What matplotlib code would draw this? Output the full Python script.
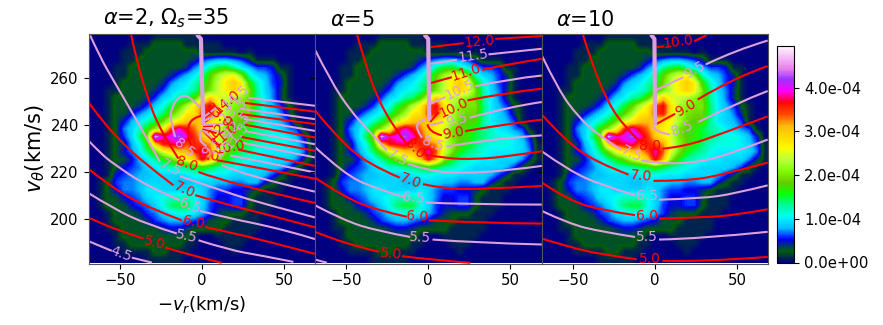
import matplotlib
matplotlib.use('Agg')

import matplotlib.pyplot as plt
from matplotlib.patches import PathPatch
from matplotlib.path import Path
import numpy as np

gap = float('nan')

# density map, units of 1e-5, top row first
density = [
    [0,0,0,0,0,0,0,0,1,1,1,1,1,1,0,0,0,0,0,0,0,0,0,0,0,0,0,0,0],
    [0,0,0,0,0,1,1,1,3,3,3,3,1,1,1,1,1,0,0,0,0,0,0,0,0,0,0,0,0],
    [0,0,0,0,1,1,1,3,3,3,3,3,3,3,1,1,1,1,1,0,1,0,0,0,0,0,0,0,0],
    [0,0,0,0,1,1,3,3,3,3,3,3,3,4,6,7,8,8,7,6,4,1,1,1,0,0,0,0,0],
    [0,0,0,1,1,3,3,3,3,3,3,3,4,7,9,13,15,16,13,10,8,6,6,5,1,1,0,0,0],
    [0,0,0,1,1,3,3,3,3,3,4,6,8,10,13,18,22,25,26,20,12,9,8,6,4,1,0,0,0],
    [0,0,0,1,3,3,3,3,3,4,7,9,10,12,15,19,24,27,30,27,17,12,9,6,5,1,0,0,0],
    [0,0,1,1,3,3,3,3,4,6,9,10,11,13,17,20,24,27,29,27,20,13,9,7,4,1,0,0,0],
    [0,0,1,3,3,3,3,4,6,9,10,13,14,18,24,30,25,24,23,21,19,13,10,7,4,1,0,0,0],
    [0,0,1,3,3,3,4,6,9,11,15,18,23,27,34,37,28,23,21,20,20,14,10,8,6,3,1,0,0],
    [0,0,1,3,3,5,7,9,11,14,18,22,27,28,35,36,28,23,20,19,19,14,10,9,7,4,1,0,0],
    [0,0,1,3,5,8,10,12,15,19,24,27,30,31,30,28,26,23,19,18,18,13,10,9,8,6,1,0,0],
    [0,0,1,3,7,9,12,17,21,26,35,39,36,33,29,27,25,20,18,17,15,13,12,10,9,7,6,1,0],
    [0,0,1,3,6,9,14,20,46,38,40,43,39,35,30,27,25,20,18,17,15,14,12,11,11,10,8,5,0],
    [0,0,1,3,4,8,11,17,30,36,37,38,34,36,34,32,25,21,18,16,14,12,11,11,11,10,9,6,1],
    [0,0,1,3,5,7,10,14,19,25,28,30,31,34,39,34,25,20,16,14,13,11,10,10,10,10,9,7,1],
    [0,0,1,3,3,5,8,10,13,16,19,23,26,30,37,31,21,16,13,12,11,10,10,9,9,9,7,4,1],
    [0,0,1,3,5,6,7,9,10,12,12,13,14,15,17,15,13,12,11,10,9,9,9,9,8,6,3,1,0],
    [0,0,1,5,6,7,8,8,9,9,9,9,10,11,11,10,10,10,9,9,9,9,8,6,4,1,1,0,0],
    [0,1,3,6,7,7,8,9,9,9,9,8,8,9,9,9,8,8,7,7,8,8,5,3,1,1,0,0,0],
    [0,1,3,5,7,7,8,10,10,9,9,9,9,10,9,7,6,6,5,5,4,3,1,1,1,0,0,0,0],
    [0,1,3,3,5,6,7,9,10,11,12,12,12,11,9,7,5,5,6,6,3,1,1,1,0,0,0,0,0],
    [0,1,3,3,3,5,6,7,9,11,14,15,15,11,9,6,5,5,6,6,3,1,1,1,0,0,0,0,0],
    [0,0,1,3,3,3,4,6,7,9,10,11,11,10,8,6,4,3,3,3,1,1,1,0,0,0,0,0,0],
    [0,0,1,3,3,3,3,4,6,7,8,8,7,6,5,3,3,3,1,1,1,1,0,0,0,0,0,0,0],
    [0,0,1,1,3,3,3,3,3,4,5,5,4,3,3,3,3,1,1,1,1,1,0,0,0,0,0,0,0],
    [0,0,0,1,3,3,3,3,3,3,3,3,3,1,0,0,1,1,1,1,1,0,0,0,0,0,0,0,0],
    [0,0,0,1,1,3,3,3,3,3,3,3,1,1,0,0,0,1,1,1,0,0,0,0,0,0,0,0,0],
    [0,0,0,0,1,1,1,1,3,3,1,1,1,0,0,0,0,0,1,0,0,0,0,0,0,0,0,0,0],
    [0,0,0,0,0,0,0,1,1,1,1,1,0,0,0,0,0,0,0,0,0,0,0,0,0,0,0,0,0],
]

titles = [r'$\alpha$=2, $\Omega_s$=35', r'$\alpha$=5', r'$\alpha$=10']

# (level, vr, vtheta) - gap where the contour label sits
lines_a2 = [
    (4.5, [-69.2,-61.9,-54.8,gap,-42.6,-30.4], [190.6,188.4,186.4,gap,183.5,181.4]),
    (5.0, [-69.2,-61.9,-53.8,-35.5,gap,-22.3,-3,12.2], [200.6,198.4,195.9,191.6,gap,187.8,183.8,181.3]),
    (5.5, [-69.2,-53.8,-33.5,-15.2,gap,-2,17.2,35.5,55.8], [211.1,204.4,197.7,193.8,gap,190.9,186.7,184.5,181.7]),
    (6.0, [-69.2,-53.8,-33.5,-12.2,gap,2,17.2,37.5,69], [221.4,212.9,205.1,199.4,gap,196.6,194.2,190.9,185.1]),
    (6.5, [-69.2,-61.9,-53.8,-33.5,-13.2,gap,-1,17.2,37.5,59.8,69], [233.5,228.1,223.5,214,207.9,gap,203.4,200.2,197.4,193.4,191.4]),
    (7.0, [-69.2,-61.9,-53.8,-37.5,-17.2,gap,-4,17.2,37.5,69], [249.8,243.1,236.3,225,214.3,gap,210.1,205.8,202.3,196.4]),
    (7.5, [-68,-61.9,-53.8,-39.6,-25.4,gap,-13.2,17.2,37.5,69], [278.2,268.9,259,242,224.3,gap,218.2,210.8,206.5,200.6]),
    (8.0, [-43.2,-39.6,-33.5,-25.4,-14.2,gap,-2,17.2,69], [278.9,267.5,252.6,237.7,225.7,gap,220,215,206.8]),
    (8.5, [-1,-7.1,-13.2,-18.3,-19.3,-16.2,gap,12,25.4,69], [247.4,252.2,252.6,247.7,242,234.9,gap,223,218.6,211.6]),
    (9.0, [0,-6,-9,-7,-3,gap,9.1,17.2,69], [244,243,238,231,228,gap,225,224.2,217.1]),
    (9.5, [0,-1.5,0,3,gap,17.2,69], [238,235,232,231,gap,227.1,219.8]),
    (10.0, [0.5,5,11,gap,22.3,69], [238,234,231,gap,229.5,222.6]),
    (10.5, [0.5,8,gap,24.3,69], [238,233.5,gap,232.5,226.2]),
    (11.0, [0.5,9,gap,24.3,69], [238.5,236.5,gap,234.9,229]),
    (11.5, [0.5,14,gap,26.4,69], [239,236.5,gap,237.4,231.8]),
    (12.0, [0.5,7,gap,26.4,69], [239.5,239.5,gap,240.1,234.7]),
    (12.5, [0.5,14,gap,25.4,69], [240,240.5,gap,242.7,237.5]),
    (13.0, [0.5,5,gap,22.3,69], [240.5,243,gap,244.8,240.4]),
    (13.5, [0.5,12,gap,23.3,69], [241.5,245,gap,247,242.5]),
    (14.0, [0.5,8,gap,26.4,69], [242,247,gap,249.4,245.7]),
    (14.5, [0.5,10,gap,28.4,69], [243,248,gap,251.6,248.2]),
]
labels_a2 = [
    (4.5,-49.3,185.2,-20),(5.0,-29,189.8,-15),(5.5,-9.1,192.6,-12),(6.0,-5.1,198.7,-12),
    (6.5,-7.1,205.4,-20),(7.0,-10.8,212.2,-25),(7.5,-19.3,221.5,-30),(8.0,-9,223.4,-20),
    (8.5,-10.8,230.1,-40),(9.0,4.1,226.8,-5),(9.5,6.1,230.1,40),(10.0,17.2,230.4,10),
    (10.5,13.2,232.1,60),(11.0,14.2,235.6,40),(11.5,21.3,235.6,50),(12.0,12.2,239.1,40),
    (12.5,21.3,240.6,40),(13.0,9.7,244.1,-40),(13.5,19.7,246.5,40),(14.0,15.2,249.6,40),
    (14.5,20.9,251.9,40),
]
thick_a2 = ([-3,-0.5,0,1], [278.6,276.7,262,240])

lines_a5 = [
    (4.5, [-69,-61.7], [182.7,181.3]),
    (5.0, [-69,-51.5,-30.2,gap,-16,9.3,25.6], [194.5,189.5,186,gap,184.1,182.1,181.3]),
    (5.5, [-69,-51.5,-31.2,-11,gap,2.6,29.6,69.2], [205.8,199.4,194.9,192.3,gap,191.2,189.8,189.1]),
    (6.0, [-69,-51.5,-31.2,-13,gap,0.2,29.6,69.2], [217.6,209.4,203.7,200.9,gap,199.4,198.3,198]),
    (6.5, [-69,-51.5,-33.3,-15,gap,-1.4,19.5,69.2], [230.6,219.3,213.2,209.4,gap,207,206.2,206.1]),
    (7.0, [-69,-55.6,-37.3,-17.4,gap,-3.2,9.3,29.6,69.2], [246.2,234.9,223.5,217.6,gap,214.8,212.9,212.6,214]),
    (7.5, [-68.8,-59.6,-47.5,-37.3,-25.2,gap,-12.6,-0.8,19.5,49.9,69.2], [271.8,259,246.2,238.4,229.2,gap,223.5,220.7,219.3,220.7,222.6]),
    (8.0, [-43.4,-38.3,-31.2,-21.1,-13,gap,-1.8,9.3,29.6,49.9,69.2], [278.6,266.1,251.9,239.1,231.8,gap,227.5,225.8,225.4,226.8,228.8]),
    (8.5, [-1.8,-5.9,-7.5,-3.9,gap,11,29.6,49.9,69.2], [242.4,241.3,238.4,234.6,gap,230.9,232.8,234.6,235.6]),
    (9.0, [-0.4,0.2,8.3,gap,22.5,45.8,69.2], [240.3,237,235.6,gap,237.4,240.3,242.3]),
    (9.5, [1.2,9.3,gap,25.2,49.9,69.2], [239.9,241.3,gap,243.1,247.9,249.8]),
    (10.0, [1.2,6.3,gap,23.9,45.8,69.2], [241.3,245.5,gap,250.5,253.6,255.5]),
    (10.5, [1.6,10.3,gap,28.6,49.9,69.2], [249.1,251.9,gap,256.5,259.7,261.1]),
    (11.0, [1.6,14.4,gap,32.7,49.9,69.2], [257.9,260.4,gap,263.5,266.1,268.2]),
    (11.5, [1.6,17.4,gap,36.7,69.2], [266.1,267.8,gap,270.1,272.5]),
    (12.0, [1.6,21.5,gap,40.8,69.2], [273.2,274.9,gap,276.7,277.9]),
]
labels_a5 = [
    (5.0,-22.7,185,-5),(5.5,-4.9,192.1,-3),(6.0,-6.9,201,-3),(6.5,-8.9,208.8,-5),
    (7.0,-10.6,216.2,-20),(7.5,-18.7,226.1,-30),(8.0,-8.5,229.6,-45),(8.5,2.8,232.1,-20),
    (9.0,15,236.6,10),(9.5,17.4,242.2,15),(10.0,15.4,247.3,25),(10.5,19.1,255.1,25),
    (11.0,23.1,262.5,18),(11.5,27.2,269.6,8),(12.0,31.2,275.7,5),
]
thick_a5 = ([-2.4,0,0.6], [278.6,276.7,242])

lines_a10 = [
    (5.0, [-68.8,-52.5,-32.3,-11,gap,4.7,28.6,68.8], [191.6,188.1,184.8,182.8,gap,182.1,181.7,183.8]),
    (5.5, [-68.8,-52.5,-32.3,-12,gap,2.6,28.6,68.8], [203.4,198,194.5,192.3,gap,191.2,191.6,194.5]),
    (6.0, [-68.8,-52.5,-32.3,-12,gap,2.6,28.6,48.9,68.8], [215.5,207.9,203.7,201.6,gap,200.1,200.6,201.6,204.1]),
    (6.5, [-68.8,-52.5,-32.3,-12,gap,2.6,28.6,48.9,68.8], [228.8,220.7,214.3,210.1,gap,208.2,208.7,210.8,214.3]),
    (7.0, [-68.8,-54.6,-36.3,-16,gap,-0.8,18.5,40.8,68.8], [244.4,233.5,224.3,218.9,gap,216.2,216.2,218.6,224]),
    (7.5, [-68.8,-58.6,-46.5,-34.3,-20.5,gap,-8.3,4.3,28.6,48.9,68.8], [269.6,254.8,243.4,235.6,229.5,gap,225,223.3,224.3,228.5,233.8]),
    (8.0, [-43.8,-38.3,-28.2,-18.1,-9.9,gap,4.7,18.5,40.8,68.8], [278.6,266.1,249.1,239.1,233.5,gap,229.9,230.9,236.3,243.7]),
    (8.5, [-0.8,0.2,9.3,gap,26.6,48.9,68.8], [239.4,237,236,gap,241.3,249.1,254.5]),
    (9.0, [0.6,12.4,gap,26.2,48.9,68.8], [240.3,244.8,gap,250.9,260.4,265.1]),
    (9.5, [0.6,17.4,gap,31,48.9,68.8], [254.8,260.4,gap,265.8,271.8,276]),
    (10.0, [1.2,5.9,gap,24.1,31.7], [273.2,273.5,gap,275.7,278.4]),
]
labels_a10 = [
    (5.0,-2.8,182.8,0),(5.5,-4.9,192.1,0),(6.0,-4.9,201.1,0),(6.5,-4.9,209.6,0),
    (7.0,-8.3,218.2,-5),(7.5,-14.4,227.5,-25),(8.0,-2.8,230.9,0),(8.5,16.8,238.4,20),
    (9.0,18.9,247.4,30),(9.5,24.1,263.3,30),(10.0,14.4,275.3,8),
]
thick_a10 = ([-2.4,-0.2,0.2], [278.6,276.7,240])

panels = [
    (lines_a2, labels_a2, thick_a2),
    (lines_a5, labels_a5, thick_a5),
    (lines_a10, labels_a10, thick_a10),
]


def draw_contour(ax, xs, ys, color):
    # one PathPatch per piece between label gaps, read points act as curve controls
    pts = np.column_stack([xs, ys])
    for piece in np.split(pts, np.where(np.isnan(pts[:, 0]))[0]):
        piece = piece[~np.isnan(piece[:, 0])]
        verts = [piece[0]]
        codes = [Path.MOVETO]
        for k in range(1, len(piece) - 1):
            end = piece[k + 1] if k == len(piece) - 2 else (piece[k] + piece[k + 1]) / 2
            verts += [piece[k], end]
            codes += [Path.CURVE3, Path.CURVE3]
        if len(piece) == 2:
            verts.append(piece[1])
            codes.append(Path.LINETO)
        ax.add_patch(PathPatch(Path(verts, codes), fill=False, edgecolor=color, lw=1.5))


W, H = 883, 325
fig = plt.figure(figsize=(W/100, H/100), dpi=100)
lefts = [88.5, 315, 541.5]
pw = 226.5
image = None
for i in range(3):
    ax = fig.add_axes([lefts[i]/W, (H-263.5)/H, pw/W, 230/H])
    image = ax.imshow(np.array(density)*1e-5, cmap='gist_ncar', vmin=0, vmax=4.95e-4,
                      extent=(-69, 69, 181, 279), aspect='auto', interpolation='bilinear')
    level_lines, level_labels, thick = panels[i]
    for level, xs, ys in level_lines:
        color = 'red' if level == int(level) else 'plum'
        draw_contour(ax, xs, ys, color)
    ax.plot(thick[0], thick[1], color='plum', lw=3, solid_capstyle='butt')
    for level, x, y, rot in level_labels:
        color = 'red' if level == int(level) else 'plum'
        ax.text(x, y, '%.1f' % level, color=color, fontsize=10, rotation=rot,
                ha='center', va='center', rotation_mode='anchor')
    ax.set_xlim(-69, 69)
    ax.set_ylim(181, 279)
    ax.set_xticks([-50, 0, 50])
    ax.set_yticks([200, 220, 240, 260])
    ax.tick_params(labelsize=10.7, labelleft=(i == 0))
    for s in ax.spines.values():
        s.set_color('#555555')
    ax.text(0.065, 1.015, titles[i], transform=ax.transAxes, fontsize=15, ha='left', va='bottom')
    if i == 0:
        ax.set_xlabel(r'$-v_r$(km/s)', fontsize=13, labelpad=4)
        ax.set_ylabel(r'$v_\theta$(km/s)', fontsize=15, labelpad=2)

cax = fig.add_axes([777/W, (H-262.5)/H, 17.5/W, 216.5/H])
cbar = fig.colorbar(image, cax=cax, format='%.1e', ticks=[0, 1e-4, 2e-4, 3e-4, 4e-4])
cbar.ax.tick_params(labelsize=10.7)

fig.savefig('out.png', dpi=100)
